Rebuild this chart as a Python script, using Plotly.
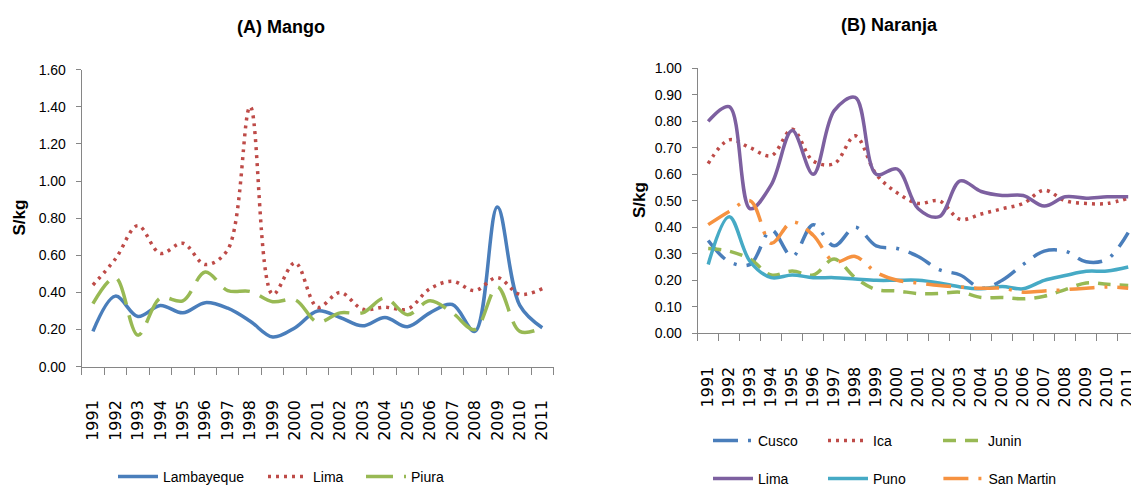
import plotly.graph_objects as go

W, H = 1131, 486

years = [str(y) for y in range(1991, 2012)]

# (A) Mango, S/kg
mango_lambayeque = [0.19, 0.38, 0.27, 0.33, 0.29, 0.345, 0.315, 0.245, 0.16, 0.21, 0.30,
                    0.265, 0.22, 0.265, 0.215, 0.29, 0.335, 0.19, 0.86, 0.33, 0.21]
mango_lima = [0.44, 0.58, 0.76, 0.61, 0.665, 0.55, 0.63, 1.40, 0.39, 0.56, 0.32,
              0.40, 0.31, 0.32, 0.31, 0.42, 0.46, 0.41, 0.48, 0.39, 0.42]
mango_piura = [0.34, 0.48, 0.17, 0.37, 0.355, 0.51, 0.41, 0.405, 0.35, 0.36, 0.24,
               0.29, 0.29, 0.37, 0.28, 0.355, 0.29, 0.20, 0.43, 0.19, 0.21]

# (B) Naranja, S/kg
naranja_cusco = [0.35, 0.27, 0.26, 0.39, 0.29, 0.41, 0.33, 0.40, 0.33, 0.32, 0.29,
                 0.24, 0.22, 0.17, 0.20, 0.26, 0.31, 0.31, 0.27, 0.28, 0.38]
naranja_ica = [0.64, 0.73, 0.70, 0.67, 0.77, 0.65, 0.64, 0.745, 0.60, 0.53, 0.49,
               0.50, 0.43, 0.45, 0.47, 0.49, 0.54, 0.50, 0.49, 0.49, 0.51]
naranja_junin = [0.32, 0.31, 0.28, 0.22, 0.235, 0.22, 0.28, 0.21, 0.165, 0.16, 0.15,
                 0.15, 0.155, 0.135, 0.135, 0.13, 0.14, 0.165, 0.19, 0.185, 0.18]
naranja_lima = [0.80, 0.855, 0.47, 0.56, 0.765, 0.60, 0.84, 0.89, 0.60, 0.62, 0.47,
                0.44, 0.575, 0.535, 0.52, 0.52, 0.48, 0.515, 0.51, 0.515, 0.515]
naranja_puno = [0.26, 0.44, 0.27, 0.21, 0.22, 0.21, 0.21, 0.205, 0.20, 0.20, 0.20,
                0.19, 0.175, 0.168, 0.177, 0.168, 0.20, 0.218, 0.234, 0.235, 0.25]
naranja_san_martin = [0.41, 0.46, 0.50, 0.34, 0.42, 0.37, 0.27, 0.29, 0.23, 0.20, 0.19,
                      0.18, 0.175, 0.17, 0.17, 0.155, 0.16, 0.165, 0.17, 0.175, 0.17]

BLUE, RED, GREEN = "#4A7EBB", "#BE4B48", "#98B954"
PURPLE, AQUA, ORANGE = "#7D60A0", "#46AAC5", "#F69240"
AXIS = "#868686"
SANS = "Liberation Sans, Arial, sans-serif"

DOT = "3px,5px"
LONG_DASH = "27px,11px"
DASH = "13px,9px"
LONG_DASH_DOT = "25px,10px,3px,10px"

fig = go.Figure()


def add_line(x_axis, y_axis, values, name, color, dash, legend):
    fig.add_trace(go.Scatter(
        x=years, y=values, name=name, mode="lines",
        line=dict(color=color, width=3.5, dash=dash, shape="spline", smoothing=1.0),
        xaxis=x_axis, yaxis=y_axis, legend=legend, hoverinfo="skip",
    ))


# left panel
add_line("x", "y", mango_lambayeque, "Lambayeque", BLUE, "solid", "legend")
add_line("x", "y", mango_lima, "Lima", RED, DOT, "legend2")
add_line("x", "y", mango_piura, "Piura", GREEN, LONG_DASH, "legend3")

# right panel
add_line("x2", "y2", naranja_cusco, "Cusco", BLUE, LONG_DASH_DOT, "legend4")
add_line("x2", "y2", naranja_ica, "Ica", RED, DOT, "legend4")
add_line("x2", "y2", naranja_junin, "Junin", GREEN, DASH, "legend4")
add_line("x2", "y2", naranja_lima, "Lima", PURPLE, "solid", "legend5")
add_line("x2", "y2", naranja_puno, "Puno", AQUA, "solid", "legend5")
add_line("x2", "y2", naranja_san_martin, "San Martin", ORANGE, LONG_DASH_DOT, "legend6")


def px_x(p):
    return p / W


def px_y(p):
    return 1 - p / H


xaxis_common = dict(
    type="category", showline=True, linecolor=AXIS, linewidth=1,
    ticks="outside", ticklen=7, tickcolor=AXIS, tickwidth=1, tickson="boundaries",
    tickangle=-90, tickfont=dict(family="DejaVu Sans, Verdana, sans-serif", size=16, color="#000"),
    ticklabelstandoff=26, showgrid=False, zeroline=False, fixedrange=True,
)
yaxis_common = dict(
    showline=True, linecolor=AXIS, linewidth=1, ticks="outside", ticklen=5,
    tickcolor=AXIS, tickwidth=1, tickformat=".2f", tick0=0,
    tickfont=dict(family=SANS, size=14, color="#000"), ticklabelstandoff=7,
    showgrid=False, zeroline=False, fixedrange=True,
)

legend_common = dict(
    orientation="h", xanchor="left", yanchor="middle", bgcolor="rgba(0,0,0,0)",
    font=dict(family=SANS, size=14, color="#000"), tracegroupgap=0, itemwidth=40,
)

fig.update_layout(
    width=W, height=H, autosize=False,
    margin=dict(l=0, r=0, t=0, b=0, pad=0, autoexpand=False),
    paper_bgcolor="white", plot_bgcolor="white",
    showlegend=True,
    xaxis=dict(xaxis_common, domain=[px_x(81.7), px_x(553.5)], range=[-0.5, 20.5]),
    yaxis=dict(yaxis_common, domain=[px_y(366.7), px_y(69.6)], range=[0, 1.6], dtick=0.2,
               anchor="x"),
    xaxis2=dict(xaxis_common, domain=[px_x(697.7), 1.0], range=[-0.5, 20.133], anchor="y2"),
    yaxis2=dict(yaxis_common, domain=[px_y(333.3), px_y(68.3)], range=[0, 1.0], dtick=0.1,
                anchor="x2"),
    legend=dict(legend_common, x=px_x(113), y=px_y(477)),
    legend2=dict(legend_common, x=px_x(263), y=px_y(477)),
    legend3=dict(legend_common, x=px_x(361), y=px_y(477)),
    legend4=dict(legend_common, x=px_x(708), y=px_y(441), entrywidth=60),
    legend5=dict(legend_common, x=px_x(708), y=px_y(479), entrywidth=60),
    legend6=dict(legend_common, x=px_x(938.4), y=px_y(479)),
    annotations=[
        dict(text="<b>(A) Mango</b>", x=px_x(281), y=px_y(27), xref="paper", yref="paper",
             showarrow=False, xanchor="center", yanchor="middle",
             font=dict(family=SANS, size=18, color="#000")),
        dict(text="<b>(B) Naranja</b>", x=px_x(889), y=px_y(25), xref="paper", yref="paper",
             showarrow=False, xanchor="center", yanchor="middle",
             font=dict(family=SANS, size=18, color="#000")),
        dict(text="<b>S/kg</b>", x=px_x(18.5), y=px_y(218), xref="paper", yref="paper",
             showarrow=False, textangle=-90, xanchor="center", yanchor="middle",
             font=dict(family=SANS, size=17, color="#000")),
        dict(text="<b>S/kg</b>", x=px_x(639), y=px_y(200), xref="paper", yref="paper",
             showarrow=False, textangle=-90, xanchor="center", yanchor="middle",
             font=dict(family=SANS, size=17, color="#000")),
    ],
)

fig.write_html("out.html", config=dict(displayModeBar=False, staticPlot=True))
